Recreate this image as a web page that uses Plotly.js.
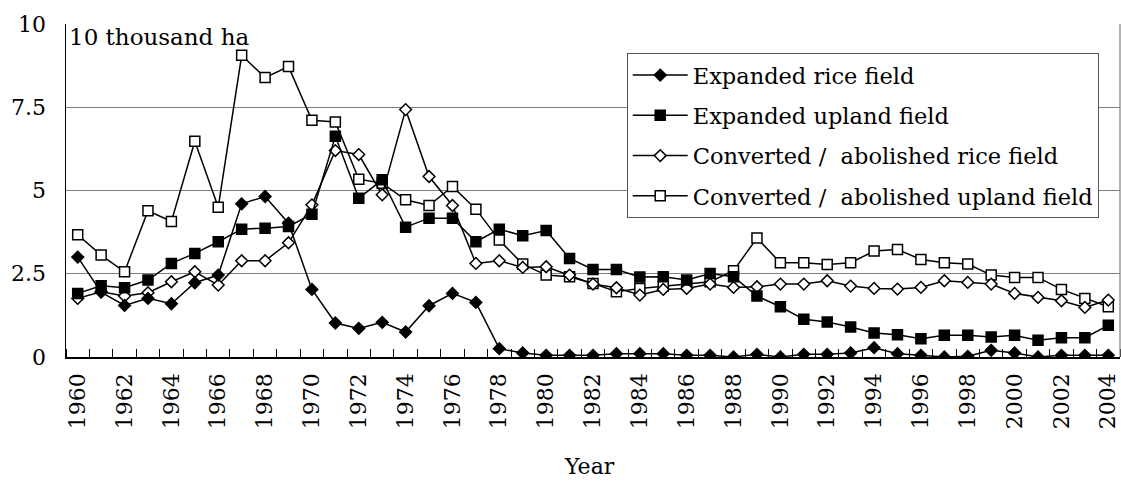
<!DOCTYPE html>
<html><head><meta charset="utf-8">
<script src="https://cdn.plot.ly/plotly-3.0.1.min.js"></script>
<style>html,body{margin:0;padding:0;background:#fff}</style>
</head><body><div id="chart" style="width:1121px;height:482px"></div>
<script>
const years = [];
for (let y = 1960; y <= 2004; y++) years.push(y);

const expandedRice = [3.0,1.95,1.55,1.76,1.6,2.23,2.46,4.6,4.82,4.02,2.03,1.02,0.86,1.04,0.75,1.54,1.91,1.64,0.25,0.12,0.05,0.05,0.05,0.1,0.1,0.1,0.05,0.05,0.0,0.08,0.0,0.08,0.08,0.12,0.28,0.1,0.05,0.0,0.02,0.2,0.12,0.0,0.05,0.05,0.05];
const expandedUpland = [1.91,2.14,2.08,2.31,2.81,3.11,3.46,3.84,3.87,3.92,4.29,6.63,4.77,5.32,3.9,4.17,4.17,3.46,3.84,3.64,3.8,2.96,2.63,2.63,2.4,2.41,2.31,2.51,2.41,1.83,1.51,1.13,1.05,0.9,0.72,0.67,0.55,0.65,0.65,0.6,0.65,0.5,0.58,0.58,0.95];
const convertedRice = [1.76,1.96,1.83,1.93,2.26,2.56,2.16,2.89,2.89,3.43,4.57,6.2,6.08,4.87,7.43,5.42,4.55,2.81,2.89,2.69,2.71,2.46,2.19,2.08,1.86,2.03,2.06,2.19,2.09,2.11,2.19,2.19,2.29,2.13,2.06,2.04,2.09,2.29,2.24,2.19,1.91,1.79,1.69,1.49,1.71];
const convertedUpland = [3.67,3.06,2.56,4.39,4.07,6.48,4.5,9.06,8.39,8.72,7.11,7.06,5.34,5.22,4.72,4.55,5.12,4.44,3.51,2.79,2.46,2.41,2.21,1.96,2.06,2.13,2.21,2.26,2.59,3.57,2.83,2.83,2.78,2.83,3.18,3.23,2.93,2.83,2.79,2.46,2.39,2.39,2.03,1.76,1.51];

const seriesNames = ["Expanded rice field","Expanded upland field","Converted /  abolished rice field","Converted /  abolished upland field"];
const tickYears = years.filter(y => y % 2 === 0);
const yTickVals = [0,2.5,5,7.5,10];
const yTickText = ["0","2.5","5","7.5","10"];

const FONT = "DejaVu Serif, Liberation Serif, serif";
const lineStyle = {color:"#000", width:1.5};

function tr(vals, name, symbol, fill, size, g, rank){
  return {x: years, y: vals, name: name, type:"scatter", mode:"lines+markers",
    line: lineStyle, legendgroup: g, legendrank: rank,
    marker:{symbol: symbol, size: size, color: fill, line:{color:"#000", width:1.5}}};
}
const data = [
  tr(convertedUpland, seriesNames[3], "square", "#fff", 10, "d", 4),
  tr(convertedRice, seriesNames[2], "diamond", "#fff", 9, "c", 3),
  tr(expandedUpland, seriesNames[1], "square", "#000", 10, "b", 2),
  tr(expandedRice, seriesNames[0], "diamond", "#000", 9, "a", 1)
];

const layout = {
  width:1121, height:482,
  margin:{l:66, r:1, t:24, b:125},
  paper_bgcolor:"#fff", plot_bgcolor:"#fff",
  font:{family:FONT, color:"#000", size:20},
  showlegend:true,
  legend:{x:0.532, y:0.913, xanchor:"left", yanchor:"top", bgcolor:"#fff",
    bordercolor:"#555", borderwidth:1, traceorder:"grouped", tracegroupgap:8,
    itemwidth:55, font:{family:FONT, size:22.5}},
  xaxis:{type:"linear", range:[1959.5, 2004.5], tickmode:"array", tickvals: tickYears,
    ticktext: tickYears.map(String), tickangle:-90, ticks:"", showgrid:false,
    showline:true, linecolor:"#000", linewidth:1.5, zeroline:false,
    ticklabeloverflow:"allow",
    tickfont:{family:FONT, size:22}, ticklabelstandoff:6,
    minor:{ticks:"inside", tick0:1959.5, dtick:1, ticklen:8, tickcolor:"#000", tickwidth:1, showgrid:false}},
  yaxis:{range:[0,10], tickmode:"array", tickvals:yTickVals, ticktext:yTickText,
    showgrid:true, gridcolor:"#808080", gridwidth:1.2, ticks:"", showline:true,
    linecolor:"#000", linewidth:1.5, zeroline:false,
    tickfont:{family:FONT, size:22}, ticklabelstandoff:14},
  shapes:[
    {type:"line", xref:"paper", yref:"paper", x0:1, x1:1, y0:0, y1:1, line:{color:"#808080", width:1.2}}
  ],
  annotations:[
    {text:"10 thousand ha", xref:"paper", yref:"paper", x:0, y:1, xanchor:"left", yanchor:"top",
      xshift:1, yshift:2, showarrow:false, font:{family:FONT, size:23}},
    {text:"Year", xref:"paper", yref:"paper", x:0.497, y:0, xanchor:"center", yanchor:"middle",
      yshift:-109, showarrow:false, font:{family:FONT, size:22}}
  ]
};
Plotly.newPlot("chart", data, layout, {displayModeBar:false, staticPlot:true});
</script></body></html>
